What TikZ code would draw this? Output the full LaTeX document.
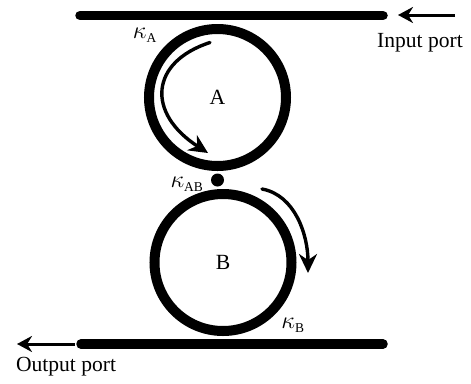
\documentclass[tikz,border=0pt]{standalone}
\usepackage{fontspec}
\setmainfont{Liberation Serif}
\usetikzlibrary{arrows.meta}
\newcommand{\kapsub}[1]{\mbox{\fontsize{11.5}{12}\selectfont #1}}

\begin{document}
\begin{tikzpicture}[
  x=0.03cm,
  y=-0.03cm,
  every node/.style={align=center},
  ring/.style={draw, circle, line width=10*0.03cm, minimum size=137*0.03cm, inner sep=0pt, font=\fontsize{18.5}{21}\selectfont},
  bus/.style={line width=9.5*0.03cm, line cap=round},
  coupler/.style={circle, fill=black, minimum size=13*0.03cm, inner sep=0pt},
  portlabel/.style={font=\fontsize{18.4}{20}\selectfont},
  kappalabel/.style={font=\fontsize{20}{22}\selectfont, inner sep=0pt},
  portarr/.style={-{Stealth[length=15*0.03cm,width=16*0.03cm]}, line width=3*0.03cm},
  flowarr/.style={-{Stealth[length=19*0.03cm,width=18*0.03cm]}, line width=3.4*0.03cm, line cap=round}
]
\useasboundingbox (0,0) rectangle (471,383);

\node[ring] (ringA) at (217.5,97.5) {A};
\node[ring] (ringB) at (223,262.5) {B};
\node[coupler] (dot) at (217.5,180) {};

\coordinate (topL) at (80,15.5);
\coordinate (topR) at (383,15.5);
\coordinate (botL) at (81,344);
\coordinate (botR) at (383,344);
\draw[bus] (topL) -- (topR);
\draw[bus] (botL) -- (botR);

\coordinate (inStart) at (455,15);
\coordinate (inEnd) at (398,15);
\coordinate (outStart) at (75,344);
\coordinate (outEnd) at (17,344);
\draw[portarr] (inStart) -- (inEnd);
\draw[portarr] (outStart) -- (outEnd);

\node[portlabel] (inlabel) at (420,43) {Input port};
\node[portlabel] (outlabel) at (66,367) {Output port};

\node[kappalabel] (kapA) at (145,35) {$\kappa_{\kapsub{A}}$};
\node[kappalabel] (kapAB) at (187,184) {$\kappa_{\kapsub{AB}}$};
\node[kappalabel] (kapB) at (293,325) {$\kappa_{\kapsub{B}}$};

\coordinate (flowAs) at (210,42.5);
\coordinate (flowAe) at (208,153);
\coordinate (flowBs) at (262,189);
\coordinate (flowBe) at (308,273);
\draw[flowarr] (flowAs) .. controls (150,62) and (146,113) .. (flowAe);
\draw[flowarr] (flowBs) .. controls (295,195) and (308,235) .. (flowBe);
\end{tikzpicture}
\end{document}
